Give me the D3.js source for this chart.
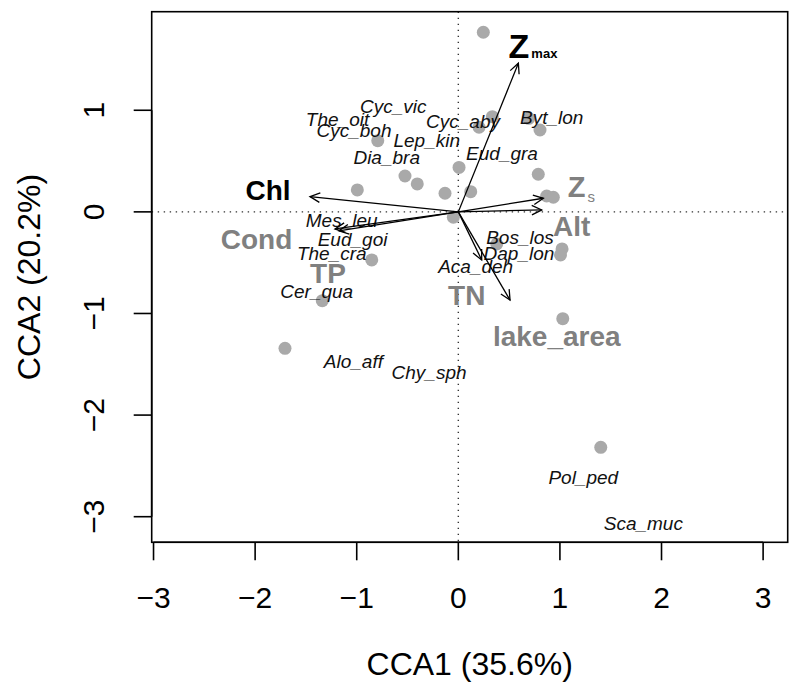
<!DOCTYPE html>
<html><head><meta charset="utf-8">
<script src="https://cdn.jsdelivr.net/npm/d3@7"></script>
<style>body{margin:0;background:#fff}svg{display:block}text{font-family:"Liberation Sans",Arial,sans-serif}</style>
</head><body>
<svg id="c" width="800" height="697"></svg>
<script>
// ---- data ----
const siteX = [0.246,0.335,0.204,0.693,0.804,-0.793,0.007,0.787,-0.994,-0.525,-0.404,-0.131,0.122,0.870,0.935,-0.049,0.378,1.021,1.006,-0.852,-1.339,-1.706,1.028,1.402];
const siteY = [1.768,0.937,0.833,0.921,0.806,0.701,0.437,0.370,0.216,0.353,0.275,0.183,0.199,0.156,0.144,-0.053,-0.316,-0.365,-0.424,-0.473,-0.874,-1.343,-1.051,-2.317];

const species  = ["Cyc_vic","The_oit","Cyc_boh","Lep_kin","Cyc_aby","Byt_lon","Dia_bra","Eud_gra","Mes_leu","Eud_goi","The_cra","Cer_qua","Bos_los","Dap_lon","Aca_deh","Alo_aff","Chy_sph","Pol_ped","Sca_muc"];
const speciesX = [-0.640,-1.189,-1.027,-0.311,0.046,0.919,-0.705,0.430,-1.148,-1.041,-1.246,-1.394,0.607,0.597,0.171,-1.033,-0.288,1.230,1.821];
const speciesY = [1.042,0.914,0.806,0.708,0.888,0.937,0.543,0.580,-0.080,-0.267,-0.405,-0.785,-0.244,-0.407,-0.539,-1.474,-1.573,-2.606,-3.065];

const envNames = ["Z","Chl","Cond","TP","Z","Alt","TN","lake_area"];
const envSub   = ["max","","","","s","","",""];
const envX     = [0.591,-1.460,-1.214,-1.176,0.837,0.821,0.509,0.230];
const envY     = [1.463,0.150,-0.168,-0.187,0.134,0.019,-0.868,-0.473];
const envLabX  = [0.597,-1.873,-1.986,-1.283,1.165,1.116,0.083,0.969];
const envLabY  = [1.638,0.215,-0.267,-0.601,0.250,-0.139,-0.818,-1.222];
const envDark  = [true,true,false,false,false,false,false,false];

const xTicks = [-3,-2,-1,0,1,2,3];
const yTicks = [-3,-2,-1,0,1];
const xTitle = "CCA1 (35.6%)";
const yTitle = "CCA2 (20.2%)";

// ---- layout ----
const L = 151.7, R = 787.7, T = 11.7, B = 542.3;
const x = d3.scaleLinear().domain([-3.018, 3.242]).range([L, R]);
const y = d3.scaleLinear().domain([-3.252, 1.970]).range([B, T]);
const svg = d3.select("#c");
const GREY = "#808080", PT = "#a9a9a9";

// zero lines
svg.append("line").attr("x1",x(0)).attr("x2",x(0)).attr("y1",T).attr("y2",B)
  .attr("stroke","#333").attr("stroke-width",1.4).attr("stroke-dasharray","1.4,4.6");
svg.append("line").attr("x1",L).attr("x2",R).attr("y1",y(0)).attr("y2",y(0))
  .attr("stroke","#333").attr("stroke-width",1.4).attr("stroke-dasharray","1.4,4.6");

// site points
svg.append("g").selectAll("circle").data(siteX).join("circle")
  .attr("cx",(d)=>x(d)).attr("cy",(d,i)=>y(siteY[i])).attr("r",6.5).attr("fill",PT);

// species labels
svg.append("g").selectAll("text").data(species).join("text")
  .attr("x",(d,i)=>x(speciesX[i])).attr("y",(d,i)=>y(speciesY[i])).attr("dy","0.36em")
  .attr("text-anchor","middle").attr("font-style","italic").attr("font-size",19)
  .attr("fill","#111").text(d=>d);

// env arrows
const ag = svg.append("g").attr("stroke","#000").attr("stroke-width",1.3).attr("fill","none");
envX.forEach((ex,i)=>{
  const x0=x(0), y0=y(0), x1=x(ex), y1=y(envY[i]);
  ag.append("line").attr("x1",x0).attr("y1",y0).attr("x2",x1).attr("y2",y1);
  const a=Math.atan2(y1-y0,x1-x0), len=11, sp=0.45;
  const p = [[x1-len*Math.cos(a-sp), y1-len*Math.sin(a-sp)],[x1,y1],[x1-len*Math.cos(a+sp), y1-len*Math.sin(a+sp)]];
  ag.append("path").attr("d",d3.line()(p));
});

// env labels
envNames.forEach((n,i)=>{
  const col = envDark[i] ? "#000" : GREY;
  const big = n==="Z" ? (envSub[i]==="max"?34:29) : 28;
  const cx = x(envLabX[i]), cy = y(envLabY[i]);
  svg.append("text").attr("x",cx).attr("y",cy).attr("dy","0.36em").attr("text-anchor","middle")
    .attr("font-weight","bold").attr("font-size",big).attr("fill",col).text(n);
  if (envSub[i]) {
    const zw = big*0.611/2;
    svg.append("text").attr("x",cx+zw+2).attr("y",cy+big*0.36+ (envSub[i]==="max"?0:5))
      .attr("font-weight", envSub[i]==="max"?"bold":"normal")
      .attr("font-size",envSub[i]==="max"?13:15).attr("fill",col).text(envSub[i]);
  }
});

// box
svg.append("rect").attr("x",L).attr("y",T).attr("width",R-L).attr("height",B-T)
  .attr("fill","none").attr("stroke","#000").attr("stroke-width",1.6);

// x axis
const xa = svg.append("g").attr("stroke","#000").attr("stroke-width",1.6);
xa.append("line").attr("x1",x(-3)).attr("x2",x(3)).attr("y1",B).attr("y2",B);
xTicks.forEach(t=>{
  xa.append("line").attr("x1",x(t)).attr("x2",x(t)).attr("y1",B).attr("y2",B+18);
});
svg.append("g").selectAll("text").data(xTicks).join("text")
  .attr("x",d=>x(d)).attr("y",608).attr("text-anchor","middle").attr("font-size",30).attr("fill","#000")
  .text(d=>d<0?"\u2212"+Math.abs(d):d);
// y axis
const ya = svg.append("g").attr("stroke","#000").attr("stroke-width",1.6);
ya.append("line").attr("x1",L).attr("x2",L).attr("y1",y(-3)).attr("y2",y(1));
yTicks.forEach(t=>{
  ya.append("line").attr("x1",L-18).attr("x2",L).attr("y1",y(t)).attr("y2",y(t));
});
svg.append("g").selectAll("text").data(yTicks).join("text")
  .attr("transform",d=>`translate(104,${y(d)}) rotate(-90)`).attr("text-anchor","middle")
  .attr("font-size",30).attr("fill","#000").text(d=>d<0?"\u2212"+Math.abs(d):d);

// titles
svg.append("text").attr("x",(L+R)/2).attr("y",675).attr("text-anchor","middle")
  .attr("font-size",32).attr("fill","#000").text(xTitle);
svg.append("text").attr("transform",`translate(40,${(T+B)/2}) rotate(-90)`).attr("text-anchor","middle")
  .attr("font-size",32).attr("fill","#000").text(yTitle);
</script>
</body></html>
